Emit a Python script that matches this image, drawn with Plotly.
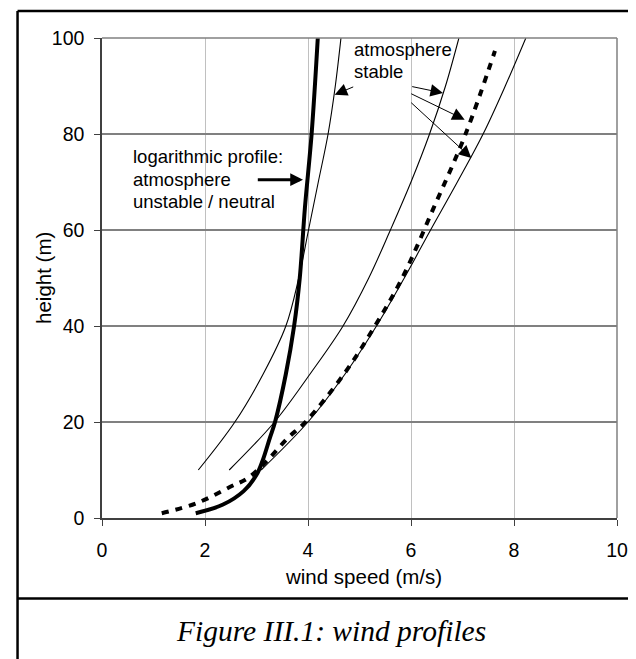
import plotly.graph_objects as go

# ---- data (wind speed m/s, height m) ----
log_h = [1, 2.8, 5.6, 9, 12, 16.7, 20, 30, 40, 50, 64.6, 80, 100]
log_v = [1.82, 2.35, 2.75, 3.0, 3.12, 3.26, 3.36, 3.57, 3.73, 3.84, 3.94, 4.07, 4.19]

stable1_h = [10, 20, 30, 40, 50, 60, 70, 80, 90, 100]
stable1_v = [1.87, 2.58, 3.13, 3.57, 3.82, 4.01, 4.20, 4.39, 4.53, 4.64]

stable2_h = [10, 20, 30, 40, 50, 60, 70, 80, 90, 100]
stable2_v = [2.47, 3.35, 4.04, 4.68, 5.18, 5.60, 6.00, 6.36, 6.67, 6.93]

stable3_h = [10, 20, 30, 40, 50, 60, 70, 80, 90, 100]
stable3_v = [3.09, 4.00, 4.72, 5.33, 5.87, 6.38, 6.90, 7.40, 7.83, 8.23]

dashed_h = [1, 3.1, 6.6, 8.3, 12.1, 16.7, 20, 30, 40, 50, 64.6, 80, 97.3]
dashed_v = [1.16, 1.84, 2.51, 2.83, 3.22, 3.61, 3.95, 4.70, 5.30, 5.83, 6.44, 7.06, 7.63]

x_ticks = [0, 2, 4, 6, 8, 10]
y_ticks = [0, 20, 40, 60, 80, 100]

SANS = "Liberation Sans, Arial, sans-serif"
SERIF = "Liberation Serif, Times New Roman, serif"

fig = go.Figure()
for vv, hh in [(stable1_v, stable1_h), (stable2_v, stable2_h), (stable3_v, stable3_h)]:
    fig.add_trace(go.Scatter(x=vv, y=hh, mode="lines",
                             line=dict(color="black", width=1.1, shape="spline"),
                             hoverinfo="skip", showlegend=False))
fig.add_trace(go.Scatter(x=dashed_v, y=dashed_h, mode="lines",
                         line=dict(color="black", width=4, dash="7px,7px", shape="spline"),
                         hoverinfo="skip", showlegend=False))
fig.add_trace(go.Scatter(x=log_v, y=log_h, mode="lines",
                         line=dict(color="black", width=4, shape="spline"),
                         hoverinfo="skip", showlegend=False))

fig.update_layout(
    width=636, height=659,
    margin=dict(l=94, r=27, t=30, b=149),
    paper_bgcolor="white", plot_bgcolor="white",
    font=dict(family=SANS, size=19, color="black"),
    showlegend=False,
    xaxis=dict(range=[0, 10], tickvals=x_ticks, showgrid=True, gridcolor="#c0c0c0",
               gridwidth=1, zeroline=False, showline=True, linecolor="#404040",
               linewidth=1.5, ticks="outside", ticklen=6, tickcolor="#404040",
               tickfont=dict(size=19.5), ticklabelstandoff=8),
    yaxis=dict(range=[0, 100], tickvals=y_ticks, showgrid=True, gridcolor="#808080",
               gridwidth=1.5, zeroline=False, showline=True, linecolor="#404040",
               linewidth=1.5, ticks="outside", ticklen=6, tickcolor="#404040",
               tickfont=dict(size=19.5), ticklabelstandoff=6),
)

# plot frame (top/right, gray)
fig.add_shape(type="line", xref="paper", yref="paper", x0=0, x1=1, y0=1, y1=1,
              line=dict(color="#808080", width=1.5))
fig.add_shape(type="line", xref="paper", yref="paper", x0=1, x1=1, y0=0, y1=1,
              line=dict(color="#808080", width=1.5))

# outer figure frame and caption separator
fig.add_shape(type="line", xref="paper", yref="paper", x0=-0.164, x1=1.07,
              y0=1.056, y1=1.056, line=dict(color="black", width=2.5))
fig.add_shape(type="line", xref="paper", yref="paper", x0=-0.164, x1=-0.164,
              y0=1.056, y1=-0.33, line=dict(color="black", width=2.5))
fig.add_shape(type="line", xref="paper", yref="paper", x0=-0.164, x1=1.07,
              y0=-0.1677, y1=-0.1677, line=dict(color="black", width=2.5))

# axis titles
fig.add_annotation(text="wind speed (m/s)", xref="paper", yref="paper", x=0.5068, y=-0.1215,
                   xanchor="center", yanchor="middle", showarrow=False, font=dict(size=20.5))
fig.add_annotation(text="height (m)", xref="paper", yref="paper", x=-0.1146, y=0.5,
                   xanchor="center", yanchor="middle", textangle=-90, showarrow=False,
                   font=dict(size=20.5))
# caption
fig.add_annotation(text="<i>Figure III.1: wind profiles</i>", xref="paper", yref="paper",
                   x=0.4437, y=-0.2354, xanchor="center", yanchor="middle", showarrow=False,
                   font=dict(family=SERIF, size=29.5))

# text labels inside the plot
for txt, xx, yy in [("logarithmic profile:", 0.557, 75.35),
                    ("atmosphere", 0.557, 70.5),
                    ("unstable / neutral", 0.557, 66.0),
                    ("atmosphere", 4.854, 97.56),
                    ("stable", 4.854, 93.06)]:
    fig.add_annotation(text=txt, x=xx, y=yy, xref="x", yref="y", xanchor="left",
                       yanchor="middle", showarrow=False, font=dict(size=18.5))

# arrows (tip x,y ; tail ax,ay)
fig.add_annotation(text="", x=3.903, y=70.48, ax=2.996, ay=70.48, xref="x", yref="y",
                   axref="x", ayref="y", showarrow=True, arrowhead=2, arrowsize=0.85,
                   arrowwidth=3, arrowcolor="black", standoff=0)
for tip_x, tip_y, tail_x, tail_y in [(4.518, 88.19, 4.907, 89.94),
                                     (6.621, 88.54, 5.994, 89.94),
                                     (7.043, 82.98, 5.975, 88.54),
                                     (7.171, 75.0, 5.975, 86.81)]:
    fig.add_annotation(text="", x=tip_x, y=tip_y, ax=tail_x, ay=tail_y, xref="x", yref="y",
                       axref="x", ayref="y", showarrow=True, arrowhead=2, arrowsize=2.5,
                       arrowwidth=1, arrowcolor="black", standoff=0)

fig.write_html("out.html")
